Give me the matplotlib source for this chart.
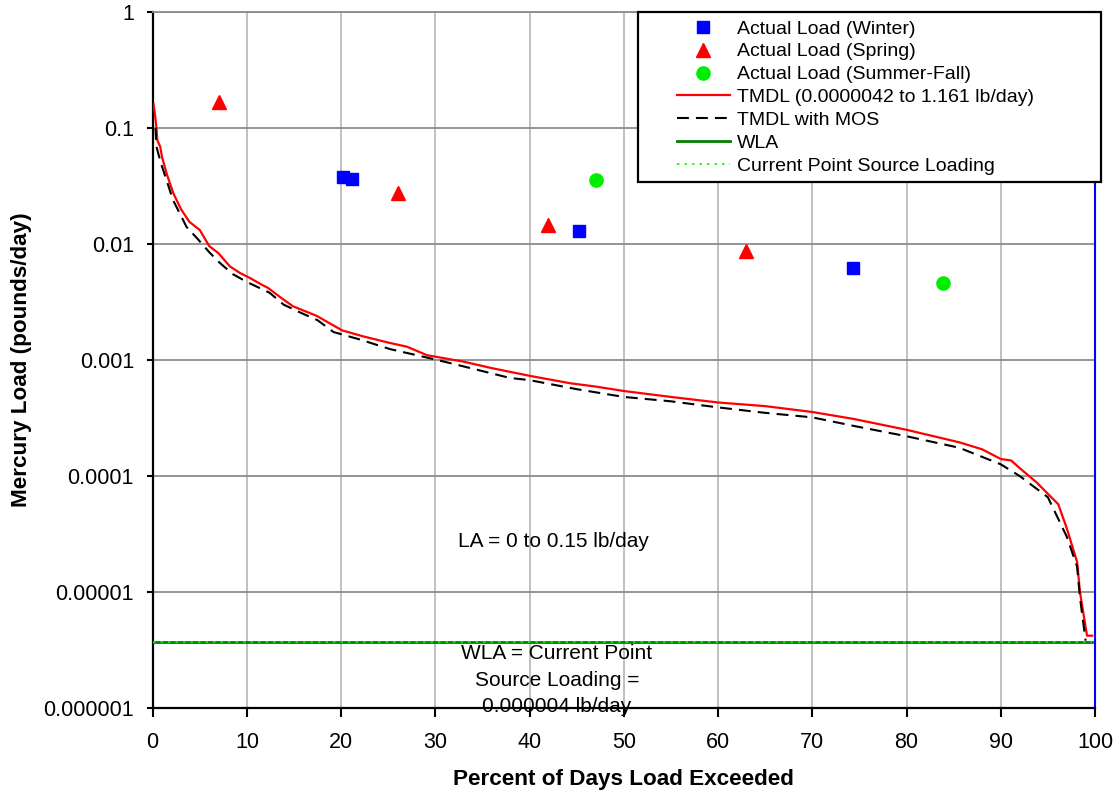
import matplotlib
matplotlib.use("Agg")
import matplotlib.pyplot as plt
from matplotlib.patches import Rectangle

plt.rcParams['font.family'] = ['Liberation Sans', 'DejaVu Sans']

# Load duration curve, TMDL (lb/day)
tmdl_x = [0.1, 0.3, 0.4, 0.5, 0.8, 1.0, 1.5, 2.2, 3.0, 3.9, 5.0, 6.0, 7.0, 8.2,
          9.3, 10.3, 11.7, 12.2, 13.7, 14.9, 17.4, 20.1, 22.3, 25.2, 27.0, 29.1,
          32.9, 36.0, 40.0, 44.3, 47.0, 50.0, 55.0, 60.0, 65.0, 70.0, 74.4, 80.0,
          85.6, 88.0, 90.0, 91.1, 92.0, 93.8, 96.1, 97.0, 98.1, 98.4, 99.15, 99.7]
tmdl_y = [0.16, 0.12, 0.10, 0.078, 0.069, 0.056, 0.040, 0.0273, 0.020, 0.0155,
          0.0132, 0.0096, 0.0083, 0.0064, 0.0056, 0.0051, 0.0044, 0.0042, 0.0034,
          0.0029, 0.0024, 0.0018, 0.0016, 0.0014, 0.0013, 0.0011, 0.00097, 0.00085,
          0.00073, 0.00063, 0.00059, 0.00054, 0.00048, 0.00043, 0.00040, 0.000356,
          0.00031, 0.00025, 0.000195, 0.00017, 0.00014, 0.000136, 0.000117,
          0.000088, 0.000057, 0.0000355, 0.0000181, 0.00001, 0.0000042, 0.0000042]

# TMDL with margin of safety
mos_x = [0.3, 0.4, 0.9, 1.5, 2.15, 3.6, 4.8, 6.0, 7.1, 8.5, 10.0, 12.4, 13.9, 15.5,
         17.5, 19.2, 22.0, 25.2, 28.0, 30.2, 34.0, 37.9, 40.0, 45.0, 50.0, 55.0,
         60.0, 65.0, 70.0, 74.4, 80.0, 85.6, 90.0, 92.0, 95.0, 97.0, 98.1, 98.4, 99.0]
mos_y = [0.10, 0.069, 0.049, 0.035, 0.024, 0.014, 0.011, 0.0085, 0.0069, 0.0055,
         0.0047, 0.0038, 0.0030, 0.0026, 0.0022, 0.00174, 0.0015, 0.00124, 0.0011,
         0.0010, 0.00084, 0.00070, 0.00067, 0.00056, 0.00048, 0.00044, 0.00039,
         0.00035, 0.00032, 0.00027, 0.00022, 0.000175, 0.000126, 0.0001, 0.0000655,
         0.00003, 0.0000165, 0.000009, 0.0000038]

wla_x = [0, 99.7]
wla_y = [0.0000037, 0.0000037]

# Measured loads
winter_x = [20.2, 21.2, 45.2, 74.3]
winter_y = [0.0378, 0.0364, 0.013, 0.0062]
spring_x = [7.0, 26.0, 42.0, 63.0]
spring_y = [0.167, 0.0275, 0.0146, 0.0087]
summer_x = [47.0, 83.9]
summer_y = [0.0356, 0.0046]

yticks = [1, 0.1, 0.01, 0.001, 0.0001, 0.00001, 0.000001]
ytick_labels = ['1', '0.1', '0.01', '0.001', '0.0001', '0.00001', '0.000001']

fig = plt.figure(figsize=(11.2, 7.92), dpi=100)
ax = fig.add_axes([0.1363, 0.1061, 0.8414, 0.8788])

ax.plot(winter_x, winter_y, 's', color='#0000ff', markersize=8.5, linestyle='none',
        label='Actual Load (Winter)', zorder=4)
ax.plot(spring_x, spring_y, '^', color='#ff0000', markersize=10.5, linestyle='none',
        label='Actual Load (Spring)', zorder=4)
ax.plot(summer_x, summer_y, 'o', color='#00ee00', markersize=9.5, linestyle='none',
        label='Actual Load (Summer-Fall)', zorder=4)
ax.plot(tmdl_x, tmdl_y, color='#ff0000', linewidth=1.6,
        label='TMDL (0.0000042 to 1.161 lb/day)', zorder=3)
ax.plot(mos_x, mos_y, color='black', linewidth=1.5, dashes=(5.7, 3.4),
        label='TMDL with MOS', zorder=3.1)
ax.plot(wla_x, wla_y, color='#008000', linewidth=2, label='WLA', zorder=3)
ax.plot(wla_x, wla_y, color='#00ff00', linewidth=1.2, linestyle=(0, (1.5, 3)),
        label='Current Point Source Loading', zorder=3.2)

ax.set_yscale('log')
ax.set_xlim(0, 100)
ax.set_ylim(0.000001, 1)
ax.set_xticks(range(0, 101, 10))
ax.set_yticks(yticks)
ax.set_yticklabels(ytick_labels)
ax.minorticks_off()

ax.yaxis.grid(True, color='#8c8c8c', linewidth=1.3)
ax.xaxis.grid(True, color='#c0c0c0', linewidth=1.4)
ax.set_axisbelow(True)

for side in ['left', 'bottom']:
    ax.spines[side].set_linewidth(1.6)
    ax.spines[side].set_color('black')
ax.spines['top'].set_color('#8c8c8c')
ax.spines['top'].set_linewidth(1.3)
ax.spines['right'].set_color('#0000ff')
ax.spines['right'].set_linewidth(1.5)

ax.tick_params(axis='x', direction='out', length=6.5, width=1.5, pad=10.5, labelsize=15.5)
ax.tick_params(axis='y', direction='out', length=4.5, width=1.5, pad=9, labelsize=15.5)

ax.set_xlabel('Percent of Days Load Exceeded', fontsize=16.2, fontweight='bold', labelpad=12)
ax.set_ylabel('Mercury Load (pounds/day)', fontsize=16.2, fontweight='bold', labelpad=8)

ax.text(42.5, 0.000027, 'LA = 0 to 0.15 lb/day', fontsize=15, ha='center', va='center')
ax.text(42.9, 0.00000174, 'WLA = Current Point\nSource Loading =\n0.000004 lb/day',
        fontsize=15, ha='center', va='center', linespacing=1.5, zorder=2, clip_on=False)

# legend box (drawn separately to get the wide left margin)
box = Rectangle((638 / 1120, 1 - 182 / 792), 463 / 1120, 170 / 792,
                transform=fig.transFigure, facecolor='white', edgecolor='black',
                linewidth=1.6, clip_on=False, zorder=4.9)
ax.add_patch(box)
leg = ax.legend(loc='upper left', bbox_to_anchor=(677 / 1120, 1 - 20 / 792),
                bbox_transform=fig.transFigure, frameon=False, fontsize=14,
                handlelength=2.7, handletextpad=0.4, labelspacing=0.27,
                borderpad=0, borderaxespad=0, numpoints=1)
leg.set_zorder(5)

fig.savefig('out.png', dpi=100)
